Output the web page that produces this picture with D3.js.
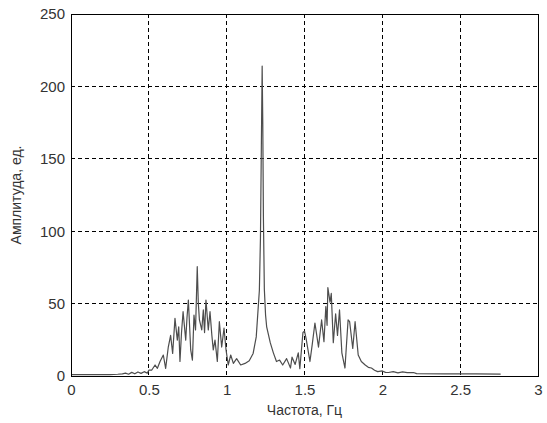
<!DOCTYPE html>
<html>
<head>
<meta charset="utf-8">
<script src="https://cdn.jsdelivr.net/npm/d3@7"></script>
<style>
  body { margin: 0; background: #fff; }
  text { font-family: "Liberation Sans", Arial, sans-serif; }
</style>
</head>
<body>
<div id="chart"></div>
<script>
// spectrum
var freq = [0, 0.05, 0.1, 0.15, 0.2, 0.25, 0.3, 0.33, 0.35, 0.37, 0.39, 0.41, 0.43, 0.45, 0.47, 0.49, 0.5,
    0.518, 0.54, 0.555, 0.572, 0.593, 0.608, 0.625, 0.64, 0.653, 0.668, 0.683, 0.692, 0.70, 0.71, 0.72,
    0.737, 0.745, 0.754, 0.769, 0.78, 0.79, 0.80, 0.811, 0.818, 0.825, 0.84, 0.85, 0.858, 0.867, 0.882,
    0.893, 0.905, 0.914, 0.925, 0.94, 0.953, 0.968, 0.983, 0.996, 1.01, 1.026, 1.043, 1.064, 1.09, 1.118,
    1.145, 1.17, 1.19, 1.21, 1.217, 1.222, 1.228, 1.232, 1.236, 1.242, 1.25, 1.257, 1.28, 1.30, 1.32,
    1.34, 1.36, 1.385, 1.41, 1.42, 1.44, 1.46, 1.47, 1.49, 1.50, 1.51, 1.535, 1.55, 1.567, 1.59, 1.61,
    1.625, 1.637, 1.645, 1.65, 1.664, 1.672, 1.685, 1.70, 1.712, 1.725, 1.74, 1.76, 1.78, 1.79, 1.81,
    1.825, 1.845, 1.865, 1.89, 1.91, 1.93, 1.95, 1.97, 2.0, 2.02, 2.04, 2.07, 2.1, 2.13, 2.16, 2.2, 2.22,
    2.4, 2.6, 2.76];
var amp = [1, 1, 1, 1, 1, 1, 1.2, 1.5, 2, 1.2, 2.5, 1.5, 2.8, 1.8, 3, 2, 4,
    4, 7.6, 5.3, 10, 14.5, 5.3, 20, 28, 15.6, 39.8, 24.8, 34, 10, 30, 44.4,
    24.8, 40, 52.5, 18, 11, 42, 31.8, 75.5, 50, 38.7, 31.8, 45.6, 30, 52.5, 31.8,
    44.4, 28, 18, 24.8, 10, 37.5, 20, 33, 18, 7.6, 14.5, 8.7, 12, 7.6, 8.7,
    10.5, 15.6, 27, 59, 95, 150, 214, 175, 110, 60, 42, 34, 23, 16, 10,
    11, 7.6, 12, 5.5, 13, 8, 16, 5, 30, 31, 26, 10, 22, 36.6, 20, 38.7,
    23.7, 48, 35, 61, 51, 57, 23, 43, 28, 45.6, 16, 5.5, 38.7, 37.5, 19,
    37.5, 14.5, 10, 7.6, 6, 5.5, 4, 3, 3.5, 2.5, 2.4, 3, 2.2, 2.8, 2.3, 2.4, 1.6,
    1.4, 1.4, 1.3];
var xTicks = [0, 0.5, 1, 1.5, 2, 2.5, 3];
var yTicks = [0, 50, 100, 150, 200, 250];
var xTitle = "Частота, Гц";
var yTitle = "Амплитуда, ед.";

var width = 547, height = 423;
var margin = {top: 14, right: 9, bottom: 47, left: 71};
var w = width - margin.left - margin.right,
    h = height - margin.top - margin.bottom;

var svg = d3.select("#chart").append("svg")
    .attr("width", width)
    .attr("height", height);

var g = svg.append("g")
    .attr("transform", "translate(" + margin.left + "," + margin.top + ")");

var x = d3.scaleLinear().domain([0, 3]).range([0, w]);
var y = d3.scaleLinear().domain([0, 250]).range([h, 0]);

// dashed grid
g.append("g").selectAll("line")
    .data(xTicks.slice(1, -1))
    .enter().append("line")
    .attr("x1", function(d) { return x(d); })
    .attr("x2", function(d) { return x(d); })
    .attr("y1", 0).attr("y2", h)
    .style("stroke", "#000")
    .style("stroke-dasharray", "4,3")
    .style("shape-rendering", "crispEdges");

g.append("g").selectAll("line")
    .data(yTicks.slice(1, -1))
    .enter().append("line")
    .attr("x1", 0).attr("x2", w)
    .attr("y1", function(d) { return y(d); })
    .attr("y2", function(d) { return y(d); })
    .style("stroke", "#000")
    .style("stroke-dasharray", "4,3")
    .style("shape-rendering", "crispEdges");

// spectrum line
var line = d3.line()
    .x(function(d, i) { return x(freq[i]); })
    .y(function(d) { return y(d); });

g.append("path")
    .datum(amp)
    .attr("d", line)
    .style("fill", "none")
    .style("stroke", "#4d4d4d")
    .style("stroke-width", 1.2)
    .style("stroke-linejoin", "round");

// frame
g.append("rect")
    .attr("x", 0).attr("y", 0)
    .attr("width", w).attr("height", h)
    .style("fill", "none")
    .style("stroke", "#000")
    .style("shape-rendering", "crispEdges");

// axes (labels only, MATLAB style)
var xAxis = d3.axisBottom(x).tickValues(xTicks).tickSize(0).tickPadding(8)
    .tickFormat(function(d) { return String(d); });
var yAxis = d3.axisLeft(y).tickValues(yTicks).tickSize(0).tickPadding(6)
    .tickFormat(function(d) { return String(d); });

g.append("g").attr("transform", "translate(0," + h + ")").call(xAxis)
    .call(function(s) { s.select(".domain").remove(); })
    .selectAll("text").style("font-size", "15px").style("fill", "#333")
    .style("font-family", "'Liberation Sans', Arial, sans-serif");

g.append("g").call(yAxis)
    .call(function(s) { s.select(".domain").remove(); })
    .selectAll("text").style("font-size", "15px").style("fill", "#333")
    .style("font-family", "'Liberation Sans', Arial, sans-serif");

svg.append("text")
    .attr("x", margin.left + w / 2)
    .attr("y", 415)
    .attr("text-anchor", "middle")
    .style("font-size", "14px")
    .style("fill", "#333")
    .text(xTitle);

svg.append("text")
    .attr("transform", "translate(21," + (margin.top + h / 2) + ") rotate(-90)")
    .attr("text-anchor", "middle")
    .style("font-size", "14px")
    .style("fill", "#333")
    .text(yTitle);
</script>
</body>
</html>
